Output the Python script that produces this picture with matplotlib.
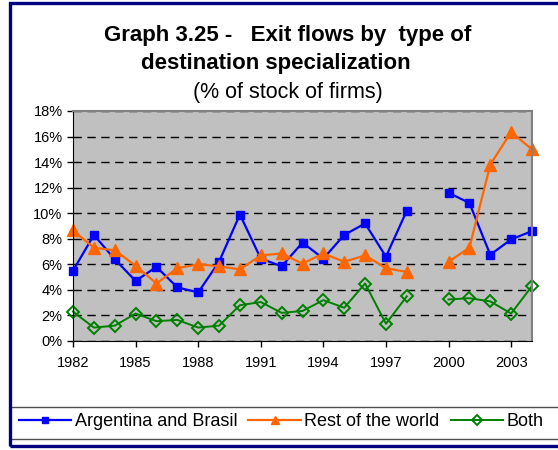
import numpy as np
import matplotlib.pyplot as plt
from matplotlib.patches import Rectangle
from matplotlib.ticker import FuncFormatter

plt.rcParams['font.family'] = ['Liberation Sans', 'DejaVu Sans']

years = list(range(1982, 2005))
nan = np.nan
argentina_brasil = [5.5, 8.3, 6.4, 4.7, 5.8, 4.2, 3.8, 6.2, 9.9, 6.45, 5.85, 7.7,
                    6.45, 8.3, 9.2, 6.6, 10.2, nan, 11.6, 10.8, 6.75, 7.95, 8.6]
rest_of_world = [8.65, 7.3, 7.1, 5.9, 4.5, 5.7, 6.0, 5.85, 5.6, 6.7, 6.85, 6.05,
                 6.85, 6.2, 6.7, 5.7, 5.4, nan, 6.2, 7.3, 13.8, 16.35, 15.0]
both = [2.3, 1.05, 1.2, 2.15, 1.55, 1.65, 1.05, 1.2, 2.8, 3.05, 2.2, 2.35,
        3.2, 2.6, 4.5, 1.35, 3.5, nan, 3.25, 3.35, 3.1, 2.15, 4.3]
tick_years = [1982, 1985, 1988, 1991, 1994, 1997, 2000, 2003]

W, H = 558, 450
fig = plt.figure(figsize=(W / 100, H / 100), dpi=100)
fig.patch.set_facecolor('white')

ax = fig.add_axes([73 / W, (H - 341) / H, 459 / W, 230 / H])
ax.set_facecolor('#C0C0C0')

ax.plot(years, argentina_brasil, color='#0000FF', lw=1.6, marker='s', ms=6,
        mfc='#0000FF', mec='#0000FF', label='Argentina and Brasil', clip_on=False)
ax.plot(years, rest_of_world, color='#FF6600', lw=1.6, marker='^', ms=8,
        mfc='#FF6600', mec='#FF6600', label='Rest of the world', clip_on=False)
ax.plot(years, both, color='#008000', lw=1.4, marker='D', ms=6.5,
        mfc='none', mec='#008000', mew=1.4, label='Both', clip_on=False)

ax.set_xlim(1982, 2004)
ax.set_ylim(0, 18)
ax.set_yticks(range(0, 19, 2))
ax.yaxis.set_major_formatter(FuncFormatter(lambda v, p: f'{int(v)}%'))
ax.set_xticks(tick_years)
ax.tick_params(axis='both', direction='out', length=4, width=1, labelsize=10.5, color='black')
ax.tick_params(axis='x', pad=7)
ax.grid(axis='y', color='black', linestyle=(0, (6, 4)), linewidth=1)
ax.set_axisbelow(True)
for side in ['top', 'right']:
    ax.spines[side].set_color('#808080')
    ax.spines[side].set_linewidth(1.5)
for side in ['left', 'bottom']:
    ax.spines[side].set_color('black')

fig.text(288 / W, 1 - 41 / H, 'Graph 3.25 -   Exit flows by  type of', ha='center', va='baseline',
         fontsize=16, fontweight='bold')
fig.text(276 / W, 1 - 69.5 / H, 'destination specialization', ha='center', va='baseline',
         fontsize=16, fontweight='bold')
fig.text(288 / W, 1 - 98 / H, '(% of stock of firms)', ha='center', va='baseline', fontsize=15.5)

# legend box
fig.patches.append(Rectangle((10 / W, (H - 439) / H), 560 / W, 32 / H, transform=fig.transFigure,
                             facecolor='white', edgecolor='#505050', linewidth=1))
handles, labels = ax.get_legend_handles_labels()
fig.legend(handles, labels, loc='center left', bbox_to_anchor=(10 / W, (H - 422) / H),
           ncol=3, frameon=False, fontsize=13, handlelength=2.9, handletextpad=0.2,
           columnspacing=0.6, borderpad=0, markerscale=0.8)

# outer navy frame
fig.patches.append(Rectangle((9.5 / W, 4 / H), 560 / W, 443 / H, transform=fig.transFigure,
                             fill=False, edgecolor='#000080', linewidth=2.4))

fig.savefig('out.png', dpi=100)
